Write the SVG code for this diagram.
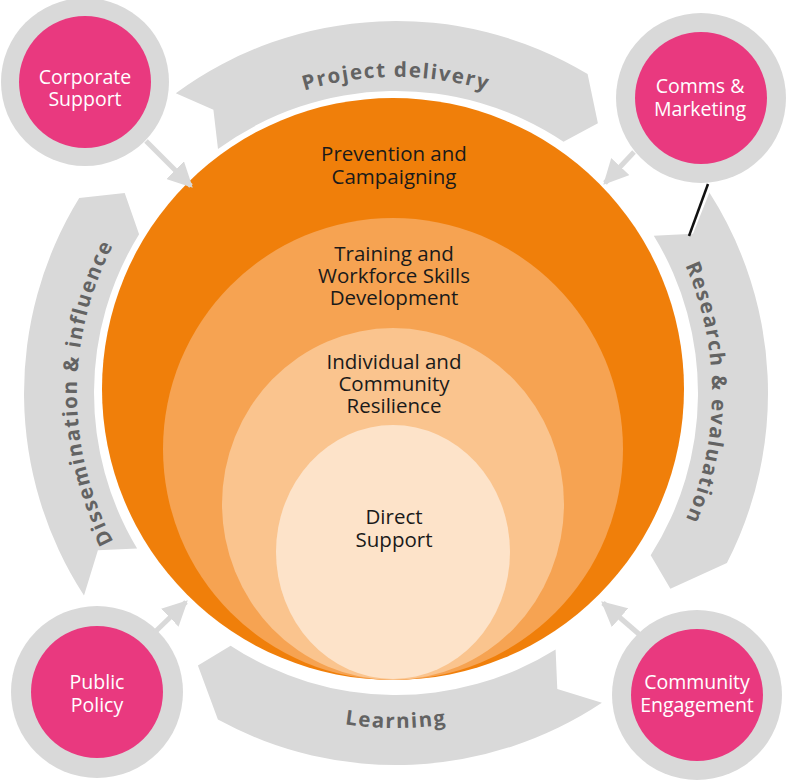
<svg xmlns="http://www.w3.org/2000/svg" width="787" height="780" viewBox="0 0 787 780">
<style>
.band{fill:#D9D9D9}
.bandtxt{font-family:"Open Sans","Noto Sans",sans-serif;font-weight:bold;font-size:20.5px;fill:#636363;letter-spacing:1.6px}
.lbl{font-family:"Open Sans","Noto Sans",sans-serif;font-size:20.5px;fill:#1a1a1a;text-anchor:middle}
.plbl{font-family:"Open Sans","Noto Sans",sans-serif;font-size:19.5px;fill:#ffffff;text-anchor:middle}
.ring{fill:#D9D9D9}
.pink{fill:#E9397F}
.conn{stroke:#D9D9D9;stroke-width:5;fill:none}
</style>
<defs>
<marker id="ah" viewBox="0 0 10 10" refX="9" refY="5" markerUnits="userSpaceOnUse" markerWidth="25" markerHeight="25" orient="auto">
<path d="M0,0 L10,5 L0,10 Z" fill="#D9D9D9"/>
</marker>
<path id="pTop" d="M122.3,235 A316,316 0 0 1 669.7,235"/>
<path id="pRight" d="M554,119.3 A316,316 0 0 1 554,666.7"/>
<path id="pLeft" d="M236.5,669.3 A319,319 0 0 1 236.5,116.7"/>
<path id="pBottom" d="M105,561 A337,337 0 0 0 687,561"/>
</defs>

<g id="cycle-arrows">
<g id="project-delivery">
<path class="band" d="M175.8,93.2 A372,372 0 0 1 587.6,74.1 L597.9,123.2 L563.5,141.7 A302,302 0 0 0 218.0,149.0 L213.4,109.7 Z"/>
<text class="bandtxt"><textPath href="#pTop" startOffset="50%" text-anchor="middle">Project delivery</textPath></text>
</g>
<g id="research-evaluation">
<path class="band" d="M709.4,192.6 A372,372 0 0 1 726.9,563.0 L670.4,588.7 L650.7,555.3 A302,302 0 0 0 653.8,235.7 L693.0,233.7 Z"/>
<text class="bandtxt"><textPath href="#pRight" startOffset="50%" text-anchor="middle">Research &amp; evaluation</textPath></text>
</g>
<g id="learning">
<path class="band" d="M601.9,702.8 A372,372 0 0 1 217.9,719.6 L197.9,665.6 L230.6,645.7 A302,302 0 0 0 555.6,649.4 L557.3,688.9 Z"/>
<text class="bandtxt"><textPath href="#pBottom" startOffset="50%" text-anchor="middle">Learning</textPath></text>
</g>
<g id="dissemination-influence">
<path class="band" d="M84.0,595.6 A372,372 0 0 1 79.2,198.1 L124.7,193.0 L139.1,234.3 A302,302 0 0 0 137.1,548.5 L97.9,550.2 Z"/>
<text class="bandtxt"><textPath href="#pLeft" startOffset="50%" text-anchor="middle">Dissemination &amp; influence</textPath></text>
</g>
</g>

<g id="prevention">
<circle cx="393" cy="389" r="291" fill="#F07F0A"/>
<text class="lbl" x="394" y="161"><tspan x="394">Prevention and</tspan><tspan x="394" dy="23">Campaigning</tspan></text>
</g>
<g id="training">
<ellipse cx="393" cy="449" rx="230" ry="231" fill="#F6A352"/>
<text class="lbl" x="394" y="261"><tspan x="394">Training and</tspan><tspan x="394" dy="22">Workforce Skills</tspan><tspan x="394" dy="22">Development</tspan></text>
</g>
<g id="individual">
<ellipse cx="393" cy="504" rx="171" ry="176" fill="#FAC48E"/>
<text class="lbl" x="394" y="369"><tspan x="394">Individual and</tspan><tspan x="394" dy="22">Community</tspan><tspan x="394" dy="22">Resilience</tspan></text>
</g>
<g id="direct">
<ellipse cx="393" cy="552" rx="117" ry="127" fill="#FDE3C9"/>
<text class="lbl" x="394" y="524"><tspan x="394">Direct</tspan><tspan x="394" dy="23">Support</tspan></text>
</g>

<g id="corporate-support">
<circle class="ring" cx="85" cy="82" r="84"/>
<circle class="pink" cx="85" cy="82" r="66"/>
<text class="plbl" x="85" y="84"><tspan x="85">Corporate</tspan><tspan x="85" dy="22">Support</tspan></text>
</g>
<g id="comms-marketing">
<circle class="ring" cx="701" cy="98" r="85"/>
<circle class="pink" cx="701" cy="98" r="66"/>
<text class="plbl" x="700" y="93"><tspan x="700">Comms &amp;</tspan><tspan x="700" dy="23">Marketing</tspan></text>
</g>
<g id="public-policy">
<circle class="ring" cx="97" cy="692" r="86"/>
<circle class="pink" cx="97" cy="692" r="66"/>
<text class="plbl" x="97" y="689"><tspan x="97">Public</tspan><tspan x="97" dy="23">Policy</tspan></text>
</g>
<g id="community-engagement">
<circle class="ring" cx="697" cy="695" r="85"/>
<circle class="pink" cx="697" cy="695" r="66"/>
<text class="plbl" x="697" y="689"><tspan x="697">Community</tspan><tspan x="697" dy="23">Engagement</tspan></text>
</g>

<g id="connectors">
<line class="conn" x1="146" y1="141" x2="191" y2="186" marker-end="url(#ah)"/>
<line class="conn" x1="634" y1="152" x2="605" y2="183" marker-end="url(#ah)"/>
<line class="conn" x1="155" y1="632" x2="186" y2="602" marker-end="url(#ah)"/>
<line class="conn" x1="640" y1="635" x2="603" y2="603" marker-end="url(#ah)"/>
<line x1="708" y1="184" x2="689" y2="236" stroke="#111" stroke-width="2.5"/>
</g>
</svg>
